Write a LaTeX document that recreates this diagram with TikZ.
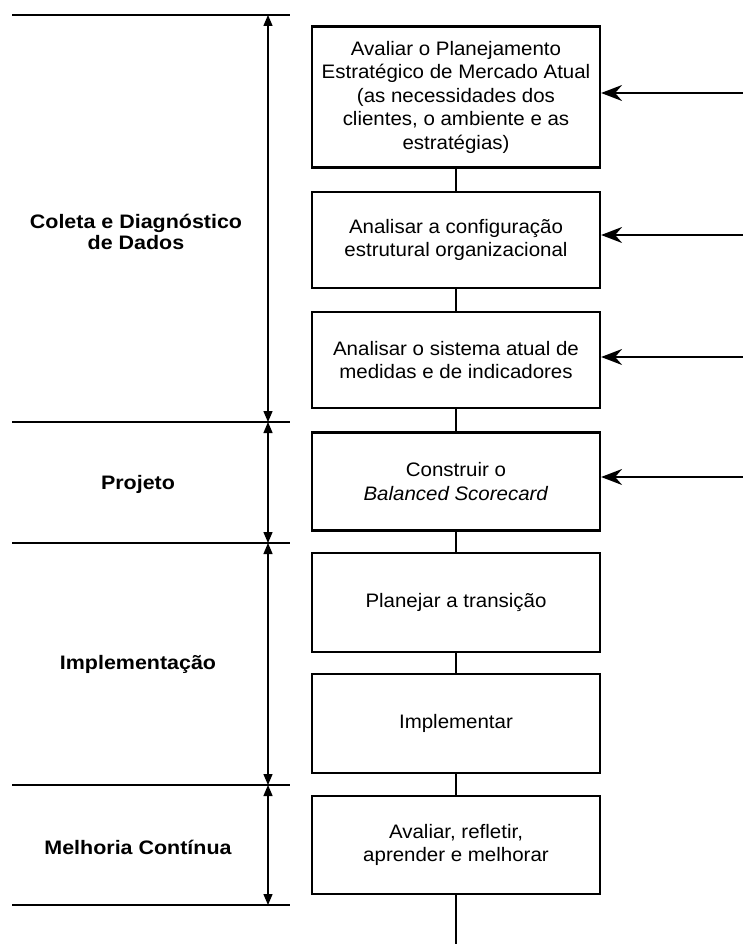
\documentclass[tikz,border=0pt]{standalone}
\usepackage{fontspec}
\setmainfont{Liberation Sans}[FakeStretch=1.05]
\newfontfamily\sectionfont{Liberation Sans}[FakeStretch=1.1]
\usetikzlibrary{arrows.meta}

\tikzset{
  stepbox/.style={draw, line width=2.2pt, minimum width=288pt, align=center,
    inner sep=0pt, font=\fontsize{19.5}{23.5}\selectfont},
  phase/.style={align=center, inner sep=0pt,
    font=\sectionfont\bfseries\fontsize{19.5}{20.5}\selectfont},
  link/.style={line width=1.8pt},
  divider/.style={line width=1.8pt},
  span/.style={line width=1.3pt, {Triangle[length=11pt,width=9pt]}-{Triangle[length=11pt,width=9pt]}},
  feed/.style={line width=1.8pt, -{Stealth[length=21pt,width=16pt,inset=7pt]}}
}

\begin{document}
\begin{tikzpicture}[x=1pt,y=-1pt]
\useasboundingbox (0,0) rectangle (743,944);

% phase dividers on the left
\foreach \n/\y in {0/15,1/422,2/543,3/785,4/905}{
  \coordinate (dl\n) at (12,\y);
  \coordinate (dr\n) at (290,\y);
  \coordinate (m\n) at (268,\y);
  \draw[divider] (dl\n) -- (dr\n);
}

% extent of each phase
\draw[span] (m0) -- (m1);
\draw[span] (m1) -- (m2);
\draw[span] (m2) -- (m3);
\draw[span] (m3) -- (m4);

% phase names
\node[phase] (p1) at (136,232) {Coleta e Diagnóstico\\de Dados};
\node[phase] (p2) at (138,484) {Projeto};
\node[phase] (p3) at (138,664) {Implementação};
\node[phase] (p4) at (138,847) {Melhoria Contínua};

% process steps
\node[stepbox, minimum height=141pt] (b1) at (456,97)
  {Avaliar o Planejamento\\Estratégico de Mercado Atual\\(as necessidades dos\\clientes, o ambiente e as\\estratégias)};
\node[stepbox, minimum height=96pt] (b2) at (456,240)
  {Analisar a configuração\\estrutural organizacional};
\node[stepbox, minimum height=96pt] (b3) at (456,360)
  {Analisar o sistema atual de\\medidas e de indicadores};
\node[stepbox, minimum height=98pt] (b4) at (456,481.5)
  {Construir o\\\textit{Balanced Scorecard}};
\node[stepbox, minimum height=99pt] (b5) at (456,602.5)
  {Planejar a transição};
\node[stepbox, minimum height=99pt] (b6) at (456,723.5)
  {Implementar};
\node[stepbox, minimum height=98pt] (b7) at (456,845)
  {Avaliar, refletir,\\aprender e melhorar};

% sequence between steps
\draw[link] (b1) -- (b2);
\draw[link] (b2) -- (b3);
\draw[link] (b3) -- (b4);
\draw[link] (b4) -- (b5);
\draw[link] (b5) -- (b6);
\draw[link] (b6) -- (b7);
\coordinate (out) at (456,944);
\draw[link] (b7) -- (out);

% inputs from the right
\coordinate (f1) at (743,93);
\coordinate (f2) at (743,235);
\coordinate (f3) at (743,357);
\coordinate (f4) at (743,477);
\draw[feed] (f1) -- (f1 -| b1.east);
\draw[feed] (f2) -- (f2 -| b2.east);
\draw[feed] (f3) -- (f3 -| b3.east);
\draw[feed] (f4) -- (f4 -| b4.east);
\end{tikzpicture}
\end{document}
